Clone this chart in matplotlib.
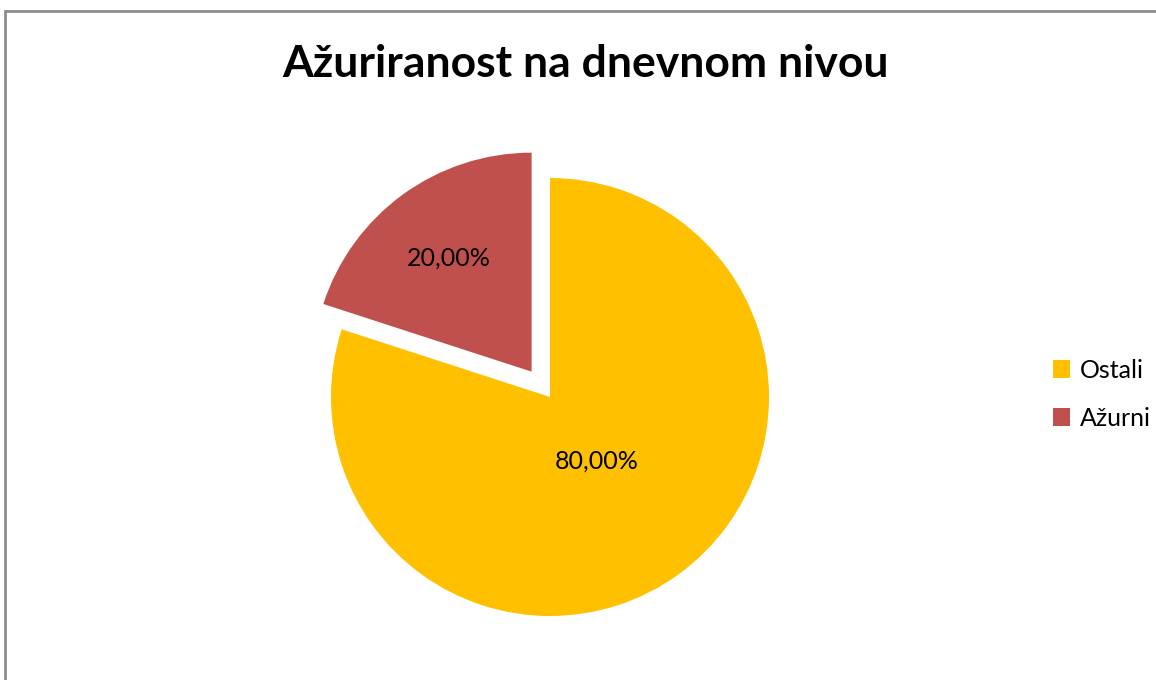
import numpy as np
import matplotlib
matplotlib.use('Agg')
import matplotlib.pyplot as plt
from matplotlib.patches import Rectangle

# Data
labels = ['Ostali', 'Ažurni']
shares = [80.0, 20.0]
colors = ['#FFC000', '#C0504D']
explode = [0.0, 0.143]

TITLE = 'Ažuriranost na dnevnom nivou'

plt.rcParams['font.family'] = ['Lato', 'DejaVu Sans']

W, H = 1156, 680
fig = plt.figure(figsize=(W / 100, H / 100), dpi=100)

# gray chart frame (right and bottom edges run off the picture)
fig.patches.append(Rectangle((5 / W, -0.1), 1.2, (H - 11) / H + 0.1,
                             transform=fig.transFigure, fill=False,
                             edgecolor='#8c8c8c', linewidth=2))

# pie centre at (550, 397) px, radius 219 px
cx, cy, r = 550, 397, 219
ax = fig.add_axes([(cx - r) / W, (H - cy - r) / H, 2 * r / W, 2 * r / H])


def fmt_pct(p):
    return f'{p:.2f}%'.replace('.', ',')


wedges, texts, autotexts = ax.pie(shares, colors=colors, explode=explode,
                                  startangle=90, counterclock=False,
                                  autopct=fmt_pct, pctdistance=0.6,
                                  wedgeprops=dict(linewidth=0),
                                  textprops=dict(fontsize=18, color='black'))

# move percentage labels to where the reference puts them
label_dist = [0.36, 0.64]
for w, t, d, e in zip(wedges, autotexts, label_dist, explode):
    mid = np.deg2rad((w.theta1 + w.theta2) / 2)
    t.set_position(((d + e) * np.cos(mid), (d + e) * np.sin(mid)))

ax.set_xlim(-1, 1)
ax.set_ylim(-1, 1)
ax.set_aspect('equal')
ax.axis('off')

fig.text(585 / W, 1 - 64 / H, TITLE, ha='center', va='center',
         fontsize=32, fontweight='bold')

fig.legend(wedges, labels, loc='center left', bbox_to_anchor=(1030 / W, 1 - 394 / H),
           frameon=False, fontsize=18, handlelength=0.7, handleheight=0.7,
           handletextpad=0.4, labelspacing=1.0)

fig.savefig('out.png', dpi=100)
